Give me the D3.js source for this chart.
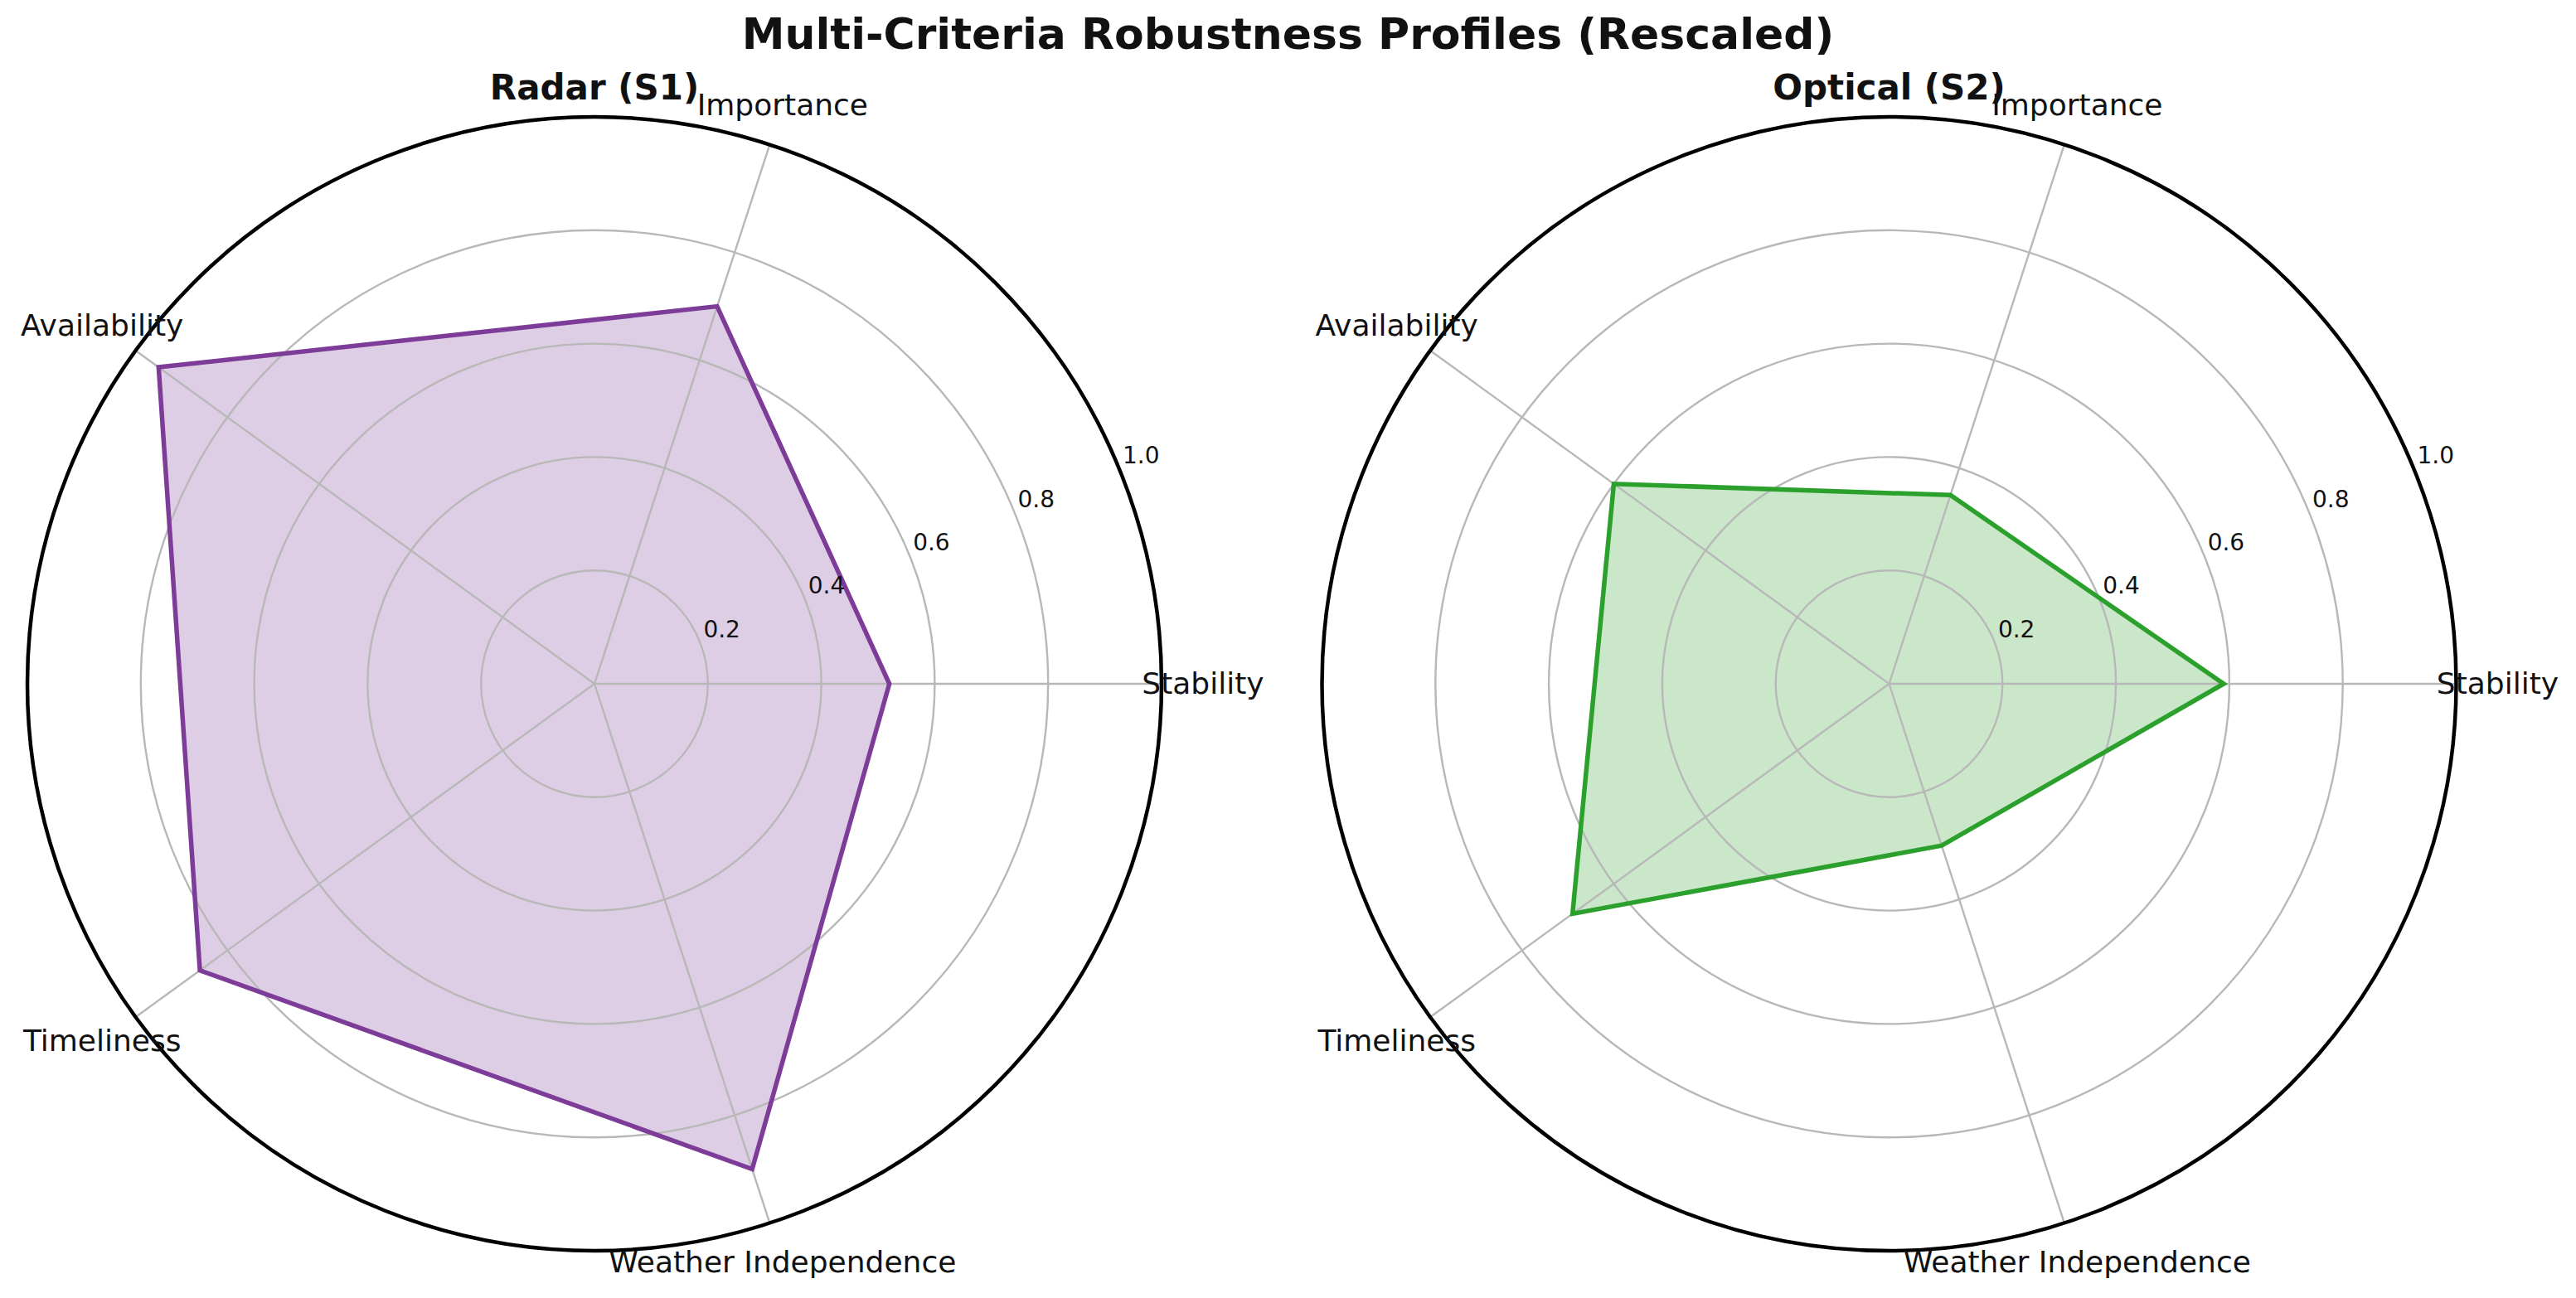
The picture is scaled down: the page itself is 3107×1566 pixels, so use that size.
<!DOCTYPE html>
<meta charset="utf-8">
<script src="https://d3js.org/d3.v7.min.js"></script>
<style>
  body { margin: 0; background: #fff; }
  text { font-family: "DejaVu Sans", sans-serif; fill: #111; }
</style>
<div id="chart"></div>
<script>
// criteria, starting east and going counter-clockwise (matplotlib polar order)
var categories = ["Stability", "Importance", "Availability", "Timeliness", "Weather Independence"];
var radarValues = [0.52, 0.70, 0.95, 0.86, 0.90];
var opticalValues = [0.59, 0.35, 0.60, 0.69, 0.30];
var ringTicks = [0.2, 0.4, 0.6, 0.8];
var tickValues = [0.2, 0.4, 0.6, 0.8, 1.0];
var tickLabels = ["0.2", "0.4", "0.6", "0.8", "1.0"];

var width = 3107, height = 1566;
var R = 684;

var svg = d3.select("#chart").append("svg")
  .attr("width", width)
  .attr("height", height);

// main title
svg.append("text")
  .attr("x", width / 2)
  .attr("y", 59)
  .attr("text-anchor", "middle")
  .style("font-size", "52px")
  .style("font-weight", "bold")
  .text("Multi-Criteria Robustness Profiles (Rescaled)");

var r = d3.scaleLinear().domain([0, 1]).range([0, R]);
// theta in math convention (0 = east, counter-clockwise)
var theta = d3.scaleLinear().domain([0, categories.length]).range([0, 2 * Math.PI]);

function drawPanel(cx, cy, title, values, color) {
  var g = svg.append("g").attr("transform", "translate(" + cx + "," + cy + ")");

  var line = d3.lineRadial()
    .angle((d, i) => Math.PI / 2 - theta(i))
    .radius(d => r(d))
    .curve(d3.curveLinearClosed);

  // fill goes under the grid, like matplotlib patches
  g.append("path")
    .datum(values)
    .attr("d", line)
    .attr("fill", color)
    .attr("fill-opacity", 0.25)
    .attr("stroke", "none");

  // rings
  g.selectAll("circle.ring")
    .data(ringTicks)
    .enter().append("circle")
      .attr("class", "ring")
      .attr("r", d => r(d))
      .attr("fill", "none")
      .attr("stroke", "#b8b8b8")
      .attr("stroke-width", 2.4);

  // spokes
  g.selectAll("line.spoke")
    .data(categories)
    .enter().append("line")
      .attr("x1", 0).attr("y1", 0)
      .attr("x2", (d, i) => r(1) * Math.cos(theta(i)))
      .attr("y2", (d, i) => -r(1) * Math.sin(theta(i)))
      .attr("stroke", "#b8b8b8")
      .attr("stroke-width", 2.4);

  // outline on top
  g.append("path")
    .datum(values)
    .attr("d", line)
    .attr("fill", "none")
    .attr("stroke", color)
    .attr("stroke-width", 5.5)
    .attr("stroke-linejoin", "miter");

  // outer spine
  g.append("circle")
    .attr("r", r(1))
    .attr("fill", "none")
    .attr("stroke", "#000")
    .attr("stroke-width", 4.5);

  // radial tick labels at 22.5 deg
  var a = 22.5 * Math.PI / 180;
  g.selectAll("text.rtick")
    .data(tickValues)
    .enter().append("text")
      .attr("class", "rtick")
      .attr("x", d => r(d) * Math.cos(a) + 5)
      .attr("y", d => -r(d) * Math.sin(a) - 4)
      .style("font-size", "28px")
      .text((d, i) => tickLabels[i]);

  // category labels
  g.selectAll("text.cat")
    .data(categories)
    .enter().append("text")
      .attr("class", "cat")
      .attr("x", (d, i) => (R + 50) * Math.cos(theta(i)))
      .attr("y", (d, i) => -(R + 50) * Math.sin(theta(i)))
      .attr("dy", "0.33em")
      .attr("text-anchor", "middle")
      .style("font-size", "36px")
      .text(d => d);

  // panel title
  g.append("text")
    .attr("x", 0)
    .attr("y", 120 - cy)
    .attr("text-anchor", "middle")
    .style("font-size", "42px")
    .style("font-weight", "bold")
    .text(title);
}

drawPanel(717, 825, "Radar (S1)", radarValues, "#7d3c98");
drawPanel(2278.5, 825, "Optical (S2)", opticalValues, "#2ca02c");
</script>
